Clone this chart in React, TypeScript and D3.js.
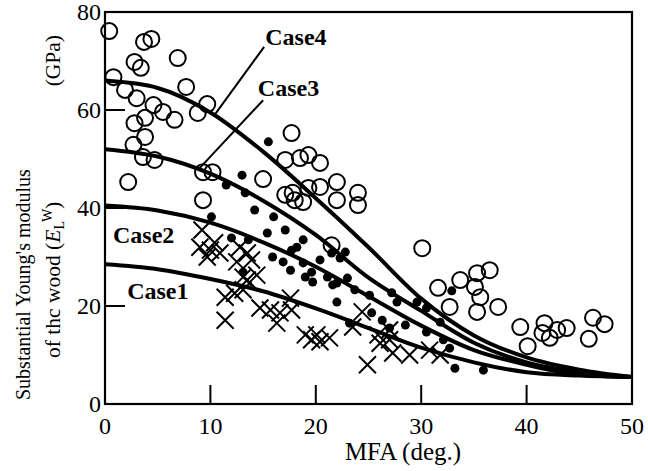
import React from "react";
import * as d3 from "d3";

const W = 648;
const H = 471;

// Model curves (MFA grid, modulus in GPa)
const mfaGrid = [0, 5, 10, 15, 20, 25, 30, 35, 40, 45, 50];
const case1 = [28.5, 27.5, 25.5, 23, 19.5, 15.5, 11.5, 8.5, 6.5, 5.8, 5.5];
const case2 = [40.5, 39.5, 37, 33, 28, 22, 16, 11, 8, 6, 5.5];
const case3 = [52, 50.5, 47, 41.5, 34.5, 25.8, 19, 12.5, 8.5, 6.5, 5.5];
const case4 = [66, 64.5, 59.5, 51.5, 42, 32, 21.5, 14, 9.5, 7, 5.5];

// Measured data: [MFA, E]
const openCircles: [number, number][] = [
  [0.4, 76.1], [3.7, 73.9], [4.4, 74.5], [6.9, 70.6], [2.8, 69.8], [3.4, 68.6],
  [0.8, 66.7], [1.9, 64.1], [3.0, 62.4], [4.6, 61.0], [5.5, 59.6], [6.6, 58.0],
  [2.8, 57.3], [3.8, 58.4], [3.8, 54.5], [2.7, 52.9], [7.7, 64.7], [9.7, 61.2],
  [8.8, 59.4], [3.6, 50.4], [4.7, 49.8], [2.2, 45.3], [9.3, 47.3], [10.2, 47.3],
  [9.3, 41.6], [15.0, 45.9], [17.7, 55.3], [17.1, 49.8], [18.5, 50.2], [19.3, 50.8],
  [20.4, 49.2], [22.0, 45.3], [24.0, 43.1], [24.0, 40.6], [22.0, 41.6], [20.4, 44.3],
  [19.3, 44.1], [17.8, 43.1], [17.1, 42.7], [18.0, 41.6], [18.8, 41.2], [21.5, 32.4],
  [30.1, 31.8], [31.6, 23.7], [32.7, 19.8], [33.7, 25.3], [35.3, 26.7], [35.1, 23.9],
  [35.6, 21.8], [35.3, 18.8], [36.5, 27.3], [37.3, 19.8], [39.4, 15.7], [40.1, 11.8],
  [41.5, 14.5], [41.7, 16.5], [42.2, 13.5], [42.9, 15.1], [43.8, 15.5], [45.9, 13.3],
  [46.3, 17.6], [47.4, 16.3],
];

const filledDots: [number, number][] = [
  [15.5, 53.5], [13.0, 46.7], [11.5, 44.7], [13.3, 43.1], [14.2, 39.6], [16.0, 38.2],
  [10.1, 38.2], [15.4, 34.9], [12.0, 33.9], [13.6, 33.5], [15.9, 30.0], [13.1, 26.9],
  [17.1, 35.5], [18.8, 33.5], [18.2, 32.0], [17.7, 31.4], [16.9, 29.0], [17.6, 27.3],
  [18.8, 28.8], [19.6, 26.9], [20.4, 29.4], [21.5, 30.8], [22.8, 31.0], [22.3, 29.8],
  [21.1, 25.9], [22.0, 24.7], [23.0, 25.7], [19.7, 24.9], [19.0, 25.9], [21.6, 24.3],
  [22.0, 20.8], [23.7, 23.3], [25.1, 22.2], [27.2, 22.7], [27.7, 20.8], [29.6, 20.8],
  [30.5, 19.6], [25.3, 18.6], [26.3, 17.1], [23.2, 16.5], [27.0, 15.5], [28.5, 16.1],
  [30.5, 14.7], [32.1, 13.1], [32.7, 11.4], [33.2, 7.3], [35.9, 6.9], [31.8, 16.7],
  [32.9, 23.1],
];

const crosses: [number, number][] = [
  [9.2, 35.5], [9.0, 32.0], [10.0, 31.4], [10.4, 32.9], [10.9, 30.8], [9.7, 30.0],
  [12.8, 32.0], [13.5, 30.8], [12.5, 29.0], [13.9, 29.4], [14.4, 26.3], [13.1, 25.9],
  [11.4, 21.8], [11.4, 17.1], [12.3, 22.6], [13.1, 23.3], [13.5, 25.3], [14.7, 19.6],
  [15.7, 19.2], [16.6, 18.6], [16.3, 16.5], [17.6, 21.6], [17.7, 19.2], [19.0, 14.1],
  [19.6, 13.1], [20.4, 12.7], [21.3, 13.5], [20.1, 14.1], [24.9, 8.0], [24.4, 18.8],
  [26.1, 12.4], [25.9, 14.1], [27.0, 13.1], [27.3, 10.4], [28.9, 10.0], [30.8, 11.0],
  [31.8, 10.0], [27.0, 15.1], [23.5, 15.7],
];

const xTicks = [0, 10, 20, 30, 40, 50];
const yTicks = [0, 20, 40, 60, 80];

// Labels: [text, MFA, E (baseline)]
const caseLabels: [string, number, number][] = [
  ["Case4", 15.2, 73.3],
  ["Case3", 14.5, 62.9],
  ["Case2", 0.76, 32.9],
  ["Case1", 2.1, 21.4],
];
// Leader lines: [x1, y1, x2, y2] in data coords
const leaders: [number, number, number, number][] = [
  [15.1, 72.9, 10.4, 59.0],
  [15.0, 62.0, 9.0, 48.2],
];

const FONT = "Liberation Serif, DejaVu Serif, Times New Roman, serif";

export default function App() {
  const x = d3.scaleLinear().domain([0, 50]).range([105, 632]);
  const y = d3.scaleLinear().domain([0, 80]).range([404, 12]);
  const line = d3
    .line<number>()
    .x((_, i) => x(mfaGrid[i]))
    .y((d) => y(d))
    .curve(d3.curveMonotoneX);
  const curves = [case1, case2, case3, case4];
  const cs = 8.5;
  const tf = { fontFamily: FONT };

  return (
    <svg width={W} height={H} style={{ display: "block", position: "absolute", left: 0, top: 0, fontFamily: FONT }}>
      <rect x={0} y={0} width={W} height={H} fill="#fff" />
      {/* frame */}
      <rect x={x(0)} y={y(80)} width={x(50) - x(0)} height={y(0) - y(80)} fill="none" stroke="#000" strokeWidth={2.2} />
      {/* ticks */}
      {xTicks.map((t) => (
        <g key={"xt" + t}>
          <line x1={x(t)} x2={x(t)} y1={y(0)} y2={y(0) - 19} stroke="#000" strokeWidth={2} />
          <text x={x(t)} y={434} style={tf} fontSize={24} textAnchor="middle">{t}</text>
        </g>
      ))}
      {yTicks.map((t) => (
        <g key={"yt" + t}>
          <line x1={x(0)} x2={x(0) + 20} y1={y(t)} y2={y(t)} stroke="#000" strokeWidth={2} />
          <text x={101} y={y(t) + 8} style={tf} fontSize={24} textAnchor="end">{t}</text>
        </g>
      ))}
      {/* axis titles */}
      <text x={403} y={460} style={tf} fontSize={25} textAnchor="middle">MFA (deg.)</text>
      <text transform="translate(30,400) rotate(-90)" style={tf} fontSize={20}>
        Substantial Young's modulus
      </text>
      <text transform="translate(60,358) rotate(-90)" style={tf} fontSize={21.5}>
        of thc wood (<tspan fontStyle="italic">E</tspan>
        <tspan fontSize={14} dy={4}>L</tspan>
        <tspan fontSize={14} dy={-12}>W</tspan>
        <tspan dy={8}>)</tspan>
      </text>
      <text transform="translate(60,35) rotate(-90)" style={tf} fontSize={21.5} textAnchor="end">
        (GPa)
      </text>
      {/* data markers */}
      {crosses.map(([a, b], i) => (
        <path
          key={"c" + i}
          d={`M${x(a) - cs},${y(b) - cs}L${x(a) + cs},${y(b) + cs}M${x(a) - cs},${y(b) + cs}L${x(a) + cs},${y(b) - cs}`}
          stroke="#000"
          strokeWidth={2}
          fill="none"
        />
      ))}
      {openCircles.map(([a, b], i) => (
        <circle key={"o" + i} cx={x(a)} cy={y(b)} r={8} fill="none" stroke="#000" strokeWidth={2} />
      ))}
      {filledDots.map(([a, b], i) => (
        <circle key={"f" + i} cx={x(a)} cy={y(b)} r={4.5} fill="#000" />
      ))}
      {/* model curves */}
      {curves.map((c, i) => (
        <path key={"l" + i} d={line(c) || ""} fill="none" stroke="#000" strokeWidth={4} />
      ))}
      {leaders.map(([a, b, c, d], i) => (
        <line key={"ld" + i} x1={x(a)} y1={y(b)} x2={x(c)} y2={y(d)} stroke="#000" strokeWidth={2} />
      ))}
      {caseLabels.map(([t, a, b]) => (
        <text key={t} x={x(a)} y={y(b)} style={tf} fontSize={24} fontWeight="bold">{t}</text>
      ))}
    </svg>
  );
}
